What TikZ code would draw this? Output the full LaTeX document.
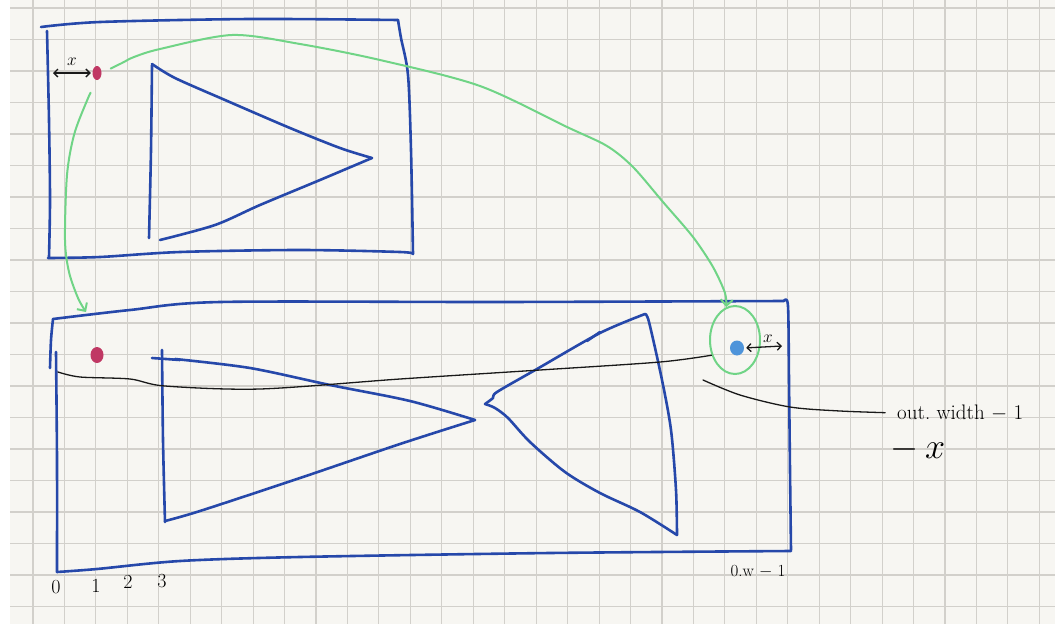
\documentclass[tikz,border=0pt]{standalone}
\usepackage{amsmath}
\usepackage{xcolor}
\usepackage{tikz}
\usetikzlibrary{arrows.meta, shapes.geometric}

\definecolor{penblue}{RGB}{38,72,170}
\definecolor{pengreen}{RGB}{112,212,134}
\definecolor{penpink}{RGB}{192,56,100}
\definecolor{penlight}{RGB}{78,148,218}
\definecolor{paper}{RGB}{247,246,242}
\definecolor{gridgray}{RGB}{210,208,203}

\begin{document}
\begin{tikzpicture}[x=1pt, y=-1pt,
    bluepen/.style={draw=penblue, line width=2.6pt, line cap=round, line join=round},
    greenpen/.style={draw=pengreen, line width=2pt, line cap=round, line join=round},
    blackpen/.style={draw=black!90, line width=1.3pt, line cap=round},
    gridline/.style={draw=gridgray, line width=1.1pt},
    dot/.style={ellipse, inner sep=0pt},
    hand/.style={font=\fontsize{#1}{#1}\selectfont, inner sep=1pt}]
  \useasboundingbox (0,0) rectangle (1061,624);

  % PAPIER
  \fill[white] (0,0) rectangle (1061,624);
  \fill[paper] (10,0) rectangle (1055,624);
  \foreach \i in {1,...,33}
    \draw[gridline] ({1.5+31.45*\i},0) -- ({1.5+31.45*\i},624);
  \foreach \j in {0,...,19}
    \draw[gridline] (10,{8+31.5*\j}) -- (1055,{8+31.5*\j});

  % ENTREE
  \begin{scope}
    % cadre
    \draw[bluepen] plot[smooth] coordinates {(41,27) (100,22) (250,19) (398,20)};
    \draw[bluepen] plot[smooth] coordinates {(398,20) (401,38) (408,75) (411,150) (413,254)};
    \draw[bluepen] plot[smooth] coordinates {(413,254) (400,252) (300,250) (180,252) (100,257) (48,258)};
    \draw[bluepen] plot[smooth] coordinates {(47,31) (49,120) (50,200) (49,257)};

    % triangle
    \draw[bluepen] plot[smooth] coordinates {(152,65) (151,150) (149,238)};
    \draw[bluepen] plot[smooth] coordinates {(152,64) (175,78) (225,100) (290,128) (340,148) (372,158)};
    \draw[bluepen] plot[smooth] coordinates {(372,158) (320,180) (260,205) (215,225) (160,240)};

    % point source + decalage
    \node[dot, fill=penpink, minimum width=9pt, minimum height=14pt] (srcdot) at (97,73) {};
    \coordinate (xl) at (53,73);
    \draw[blackpen, {Straight Barb[length=4pt]}-{Straight Barb[length=4pt]}, shorten >=1.5pt] (xl) -- (srcdot.west);
    \node[hand=18] (xtop) at (72,62) {$x$};
  \end{scope}

  % SORTIE
  \begin{scope}
    % cadre
    \draw[bluepen] plot[smooth] coordinates {(53,319) (130,310) (220,302) (500,302) (784,301)};
    \draw[bluepen] plot[smooth] coordinates {(784,301) (788,306) (789,380) (790,470) (791,550)};
    \draw[bluepen] plot[smooth] coordinates {(791,551) (550,553) (300,557) (180,561) (97,569) (57,572)};
    \draw[bluepen] plot[smooth] coordinates {(53,319) (51,340) (50,368)};
    \draw[bluepen] plot[smooth] coordinates {(56,352) (57,460) (57,572)};

    % triangle de gauche
    \draw[bluepen] (152,358) -- (180,360);
    \draw[bluepen] plot[smooth] coordinates {(162,350) (163,440) (165,522)};
    \draw[bluepen] plot[smooth] coordinates {(175,359) (250,368) (330,385) (410,401) (475,420)};
    \draw[bluepen] plot[smooth] coordinates {(475,420) (400,444) (300,478) (200,511) (165,521)};

    % triangle miroir
    \draw[bluepen] plot[smooth] coordinates {(485,404) (493,398) (497,392) (537,369) (600,333) (645,314)};
    \draw[bluepen] (587,341) -- (600,332);
    \draw[bluepen] plot[smooth] coordinates {(645,314) (649,322) (662,380) (671,430) (676,490) (677,535)};
    \draw[bluepen] plot[smooth] coordinates {(677,535) (640,512) (600,493) (565,472) (530,442) (508,418) (495,408) (485,404)};

    % points
    \node[dot, fill=penpink, minimum width=13pt, minimum height=16pt] (dstdot) at (97,355) {};
    \node[dot, fill=penlight, minimum width=14pt, minimum height=15pt] (dstblue) at (737,348) {};
    \node[dot, draw=pengreen, line width=2pt, minimum width=50pt, minimum height=68pt] (loop) at (735,340) {};
    \coordinate (xr) at (782,346);
    \draw[blackpen, {Straight Barb[length=4pt]}-{Straight Barb[length=4pt]}, shorten <=2pt] (dstblue.east) -- (xr);
    \node[hand=18] (xbot) at (768,339) {$x$};

    % indices
    \node[hand=20] (i0) at (56,587) {0};
    \node[hand=20] (i1) at (96,586) {1};
    \node[hand=20] (i2) at (128,582) {2};
    \node[hand=20] (i3) at (162,581) {3};
    \node[hand=17] (iw) at (758,572) {0.w $-$ 1};
  \end{scope}

  % LIENS
  \coordinate (gin) at (86,312);
  \draw[greenpen, shorten <=10pt, -{Straight Barb[length=6pt]}] plot[smooth] coordinates {(srcdot.east) (122,63) (134,57) (160,49) (232,35) (300,44) (380,60) (480,86) (567,127) (607,146) (633,167) (663,202) (693,237) (713,267) (725,293) (loop.105)};
  \draw[greenpen, shorten <=14pt, -{Straight Barb[length=6pt]}] plot[smooth] coordinates {(srcdot.south) (86,103) (74,135) (67,175) (65,240) (69,272) (78,298) (gin)};

  % ligne de lecture
  \coordinate (bl) at (58,372);
  \draw[blackpen] plot[smooth] coordinates {(bl) (80,377) (130,379) (165,386) (260,389) (400,379) (540,370) (660,362) (loop.213)};

  % formule
  \node[hand=21, anchor=west] (outlbl) at (896,413) {out.\ width $-$ 1};
  \node[hand=24] (minusx) at (918,449) {\scalebox{1.45}{$-\,x$}};
  \coordinate (br) at (703,380);
  \draw[blackpen, shorten >=13pt] plot[smooth] coordinates {(br) (740,395) (790,407) (840,411) (outlbl.west)};
\end{tikzpicture}
\end{document}
